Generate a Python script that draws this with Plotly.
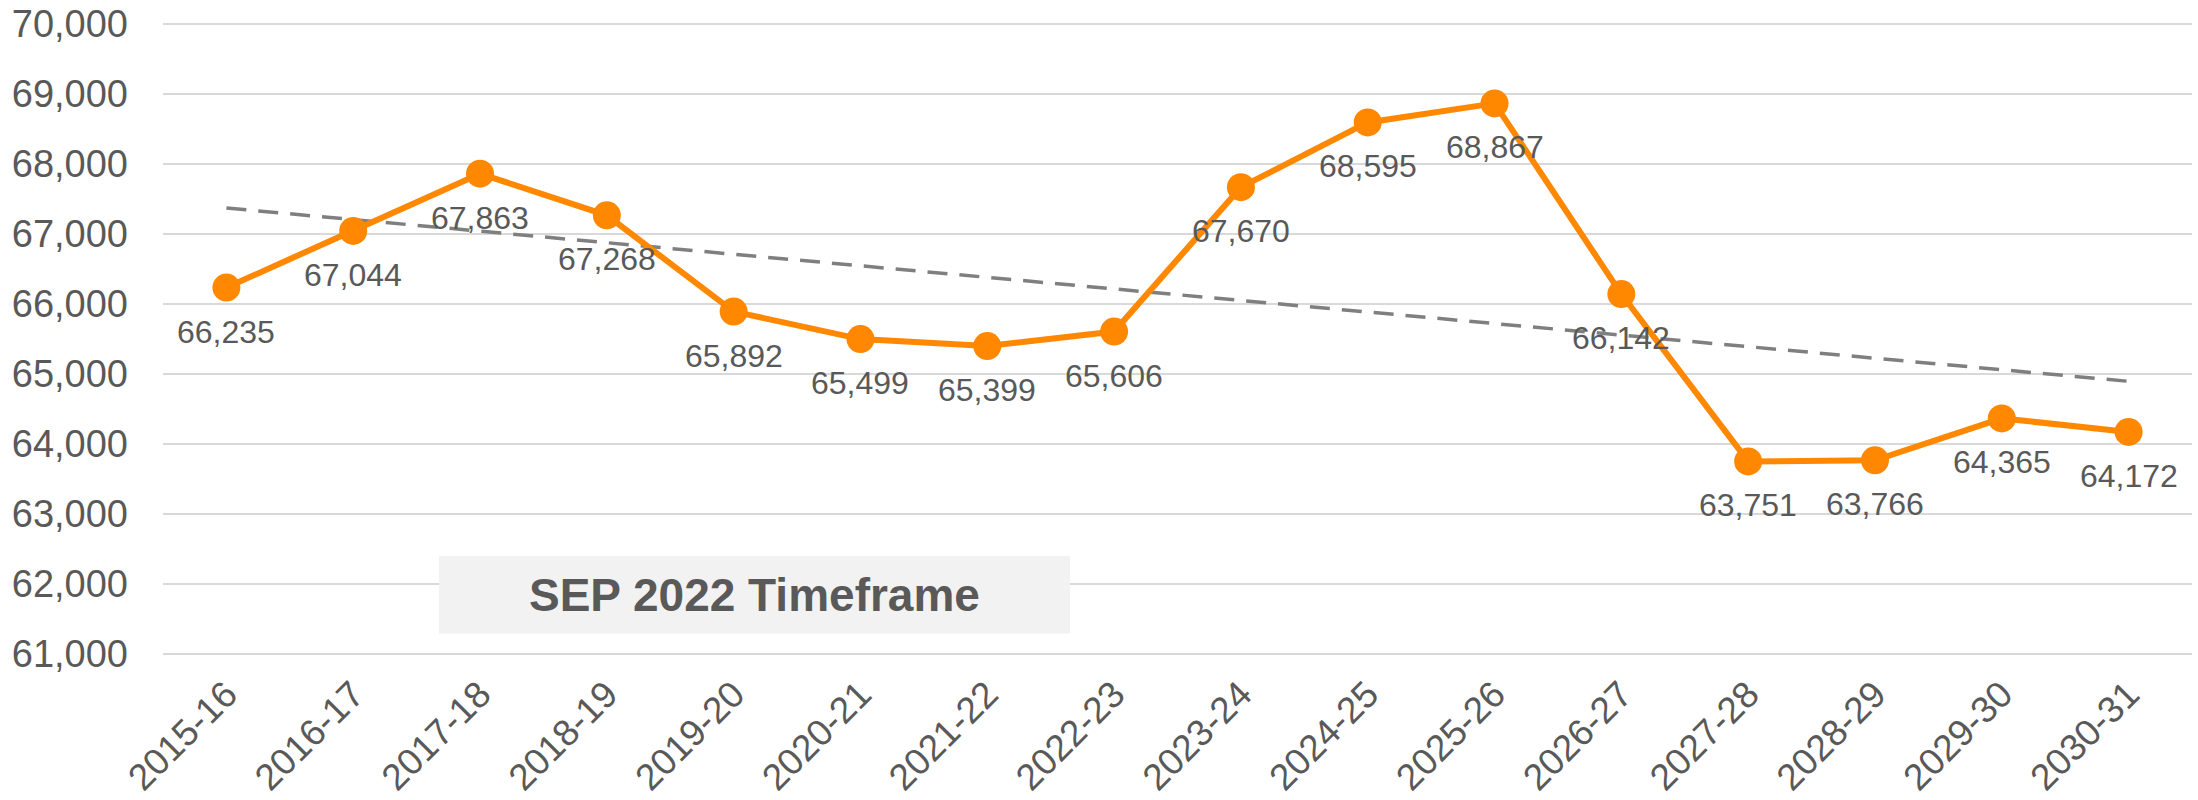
import numpy as np
import plotly.graph_objects as go

years = ["2015-16", "2016-17", "2017-18", "2018-19", "2019-20", "2020-21", "2021-22", "2022-23",
         "2023-24", "2024-25", "2025-26", "2026-27", "2027-28", "2028-29", "2029-30", "2030-31"]
values = [66235, 67044, 67863, 67268, 65892, 65499, 65399, 65606,
          67670, 68595, 68867, 66142, 63751, 63766, 64365, 64172]
y_ticks = list(range(61000, 70001, 1000))
box_label = "SEP 2022 Timeframe"

ORANGE = "#FF8800"
GREY_TXT = "#595959"
FONT = "Liberation Sans, Arial, sans-serif"

# linear trendline (least squares over category index)
idx = np.arange(len(values))
slope, intercept = np.polyfit(idx, values, 1)
trend = slope * idx + intercept

fig = go.Figure()

fig.add_trace(go.Scatter(
    x=years, y=trend, mode="lines",
    line=dict(color="#7F7F7F", width=3.5, dash="20px,12px"),
    hoverinfo="skip", showlegend=False,
))

fig.add_trace(go.Scatter(
    x=years, y=values, mode="lines+markers",
    line=dict(color=ORANGE, width=6),
    marker=dict(color=ORANGE, size=28),
    showlegend=False,
))

for yr, v in zip(years, values):
    fig.add_annotation(
        x=yr, y=v, text=f"{v:,}", showarrow=False, yshift=-44,
        font=dict(family=FONT, size=32, color=GREY_TXT),
        xanchor="center", yanchor="middle",
    )

# Timeframe label box, placed in axis units of the value scale
fig.add_shape(
    type="rect", xref="paper", yref="y",
    x0=0.136, x1=0.447, y0=61290, y1=62400,
    fillcolor="#F2F2F2", line=dict(width=0), layer="above",
)
fig.add_annotation(
    xref="paper", yref="y", x=(0.136 + 0.447) / 2, y=(61290 + 62400) / 2,
    text=f"<b>{box_label}</b>", showarrow=False,
    font=dict(family=FONT, size=46, color=GREY_TXT),
    xanchor="center", yanchor="middle",
)

fig.update_layout(
    width=2198, height=800,
    margin=dict(l=163, r=6, t=22.2, b=143.6),
    paper_bgcolor="white", plot_bgcolor="white",
    font=dict(family=FONT, color=GREY_TXT),
    xaxis=dict(
        type="category", range=[-0.5, len(years) - 0.5],
        showgrid=False, showline=False, zeroline=False, automargin=False,
        tickangle=-45, tickfont=dict(size=37, color=GREY_TXT),
        ticks="", ticklabelstandoff=8,
    ),
    yaxis=dict(
        range=[60970, 70030], tickvals=y_ticks,
        ticktext=[f"{t:,}" for t in y_ticks],
        showgrid=True, gridcolor="#D9D9D9", gridwidth=2,
        showline=False, zeroline=False, automargin=False,
        tickfont=dict(size=38, color=GREY_TXT),
        ticks="", ticklabelstandoff=34,
    ),
)

fig.write_html(
    "out.html",
    config={"displayModeBar": False},
    post_script="document.body.style.margin='0';document.body.style.overflow='hidden';",
)
